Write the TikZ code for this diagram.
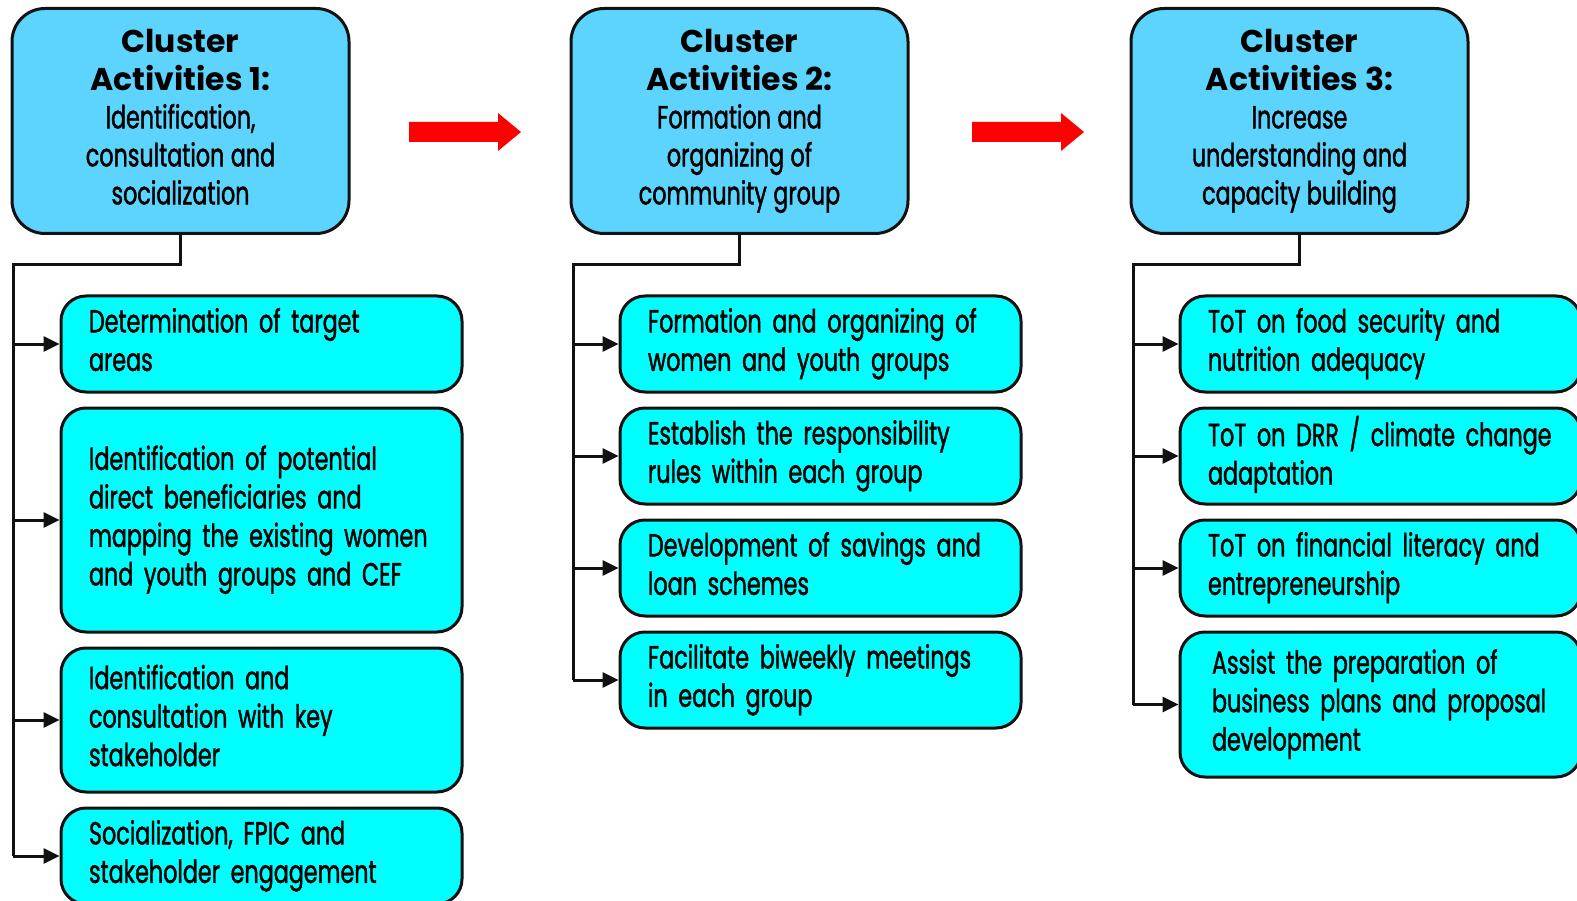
\documentclass[tikz,border=0pt]{standalone}
\usepackage{fontspec}
\setmainfont{Poppins}
\newfontfamily\bodyfont{Poppins}[FakeStretch=0.695, WordSpace=0.65, FakeBold=1.3]
\newfontfamily\headbody{Poppins}[FakeStretch=0.695, WordSpace=1.1, FakeBold=1.3]
\usetikzlibrary{arrows.meta}
\definecolor{headblue}{HTML}{5DD4FD}
\definecolor{childcyan}{HTML}{00FFFF}
\definecolor{edge}{HTML}{111111}
\definecolor{flowred}{HTML}{FF0000}
\newcommand{\hfont}{\normalfont\bfseries\fontsize{31.5}{37.5}\selectfont}
\newcommand{\tlines}[2][14pt]{\begin{tabular}{@{\hspace{#1}}l@{}}#2\end{tabular}}
\tikzset{
  headbox/.style={draw=edge, line width=3pt, fill=headblue, rounded corners=33pt,
    minimum width=337pt, minimum height=225pt, inner sep=0pt, align=center,
    font=\headbody\fontsize{32}{38}\selectfont},
  childbox/.style={draw=edge, line width=3pt, fill=childcyan, rounded corners=25pt,
    text width=373pt, inner xsep=14pt, inner ysep=0pt, align=left,
    font=\bodyfont\fontsize{32}{38.5}\selectfont},
  link/.style={line width=3pt, draw=edge, -{Triangle[length=16pt,width=15pt]}},
  stem/.style={line width=3pt, draw=edge}
}
\begin{document}
\begin{tikzpicture}[x=1pt,y=-1pt]
\useasboundingbox (0,0) rectangle (1577,901);
% header boxes
\node[headbox] (h1) at (180.5,121) {\hfont\strut Cluster\\\hfont Activities 1:\\Identification,\\consultation and\\socialization\strut};
\node[headbox] (h2) at (739.5,121) {\hfont\strut Cluster\\\hfont Activities 2:\\Formation and\\organizing of\\community group\strut};
\node[headbox] (h3) at (1299.5,121) {\hfont\strut Cluster\\\hfont Activities 3:\\Increase\\understanding and\\capacity building\strut};
% red arrows
\fill[flowred] (409,122) -- (498,122) -- (498,113) -- (521,132) -- (498,151) -- (498,142) -- (409,142) -- cycle;
\fill[flowred] (972,122) -- (1061,122) -- (1061,113) -- (1084,132) -- (1061,151) -- (1061,142) -- (972,142) -- cycle;
% column 1
\node[childbox, minimum height=96pt] (a1) at (261.5,344) {\tlines{Determination of target\\areas}};
\node[childbox, minimum height=224pt] (a2) at (261.5,520) {\tlines{Identification of potential\\direct beneficiaries and\\mapping the existing women\\and youth groups and CEF}};
\node[childbox, minimum height=144pt] (a3) at (261.5,720) {\tlines{Identification and\\consultation with key\\stakeholder}};
\node[childbox, minimum height=96pt] (a4) at (261.5,856) {\tlines{Socialization, FPIC and\\stakeholder engagement}};
% column 2
\node[childbox, minimum height=96pt] (b1) at (820.5,344) {\tlines{Formation and organizing of\\women and youth groups}};
\node[childbox, minimum height=96pt] (b2) at (820.5,456) {\tlines{Establish the responsibility\\rules within each group}};
\node[childbox, minimum height=96pt] (b3) at (820.5,568) {\tlines{Development of savings and\\loan schemes}};
\node[childbox, minimum height=96pt] (b4) at (820.5,680) {\tlines{Facilitate biweekly meetings\\in each group}};
% column 3
\node[childbox, minimum height=96pt] (c1) at (1380.5,344) {\tlines{ToT on food security and\\nutrition adequacy}};
\node[childbox, minimum height=96pt] (c2) at (1380.5,456) {\tlines{ToT on DRR / climate change\\adaptation}};
\node[childbox, minimum height=96pt] (c3) at (1380.5,568) {\tlines{ToT on financial literacy and\\entrepreneurship}};
\node[childbox, minimum height=145pt] (c4) at (1380.5,704.5) {\tlines[18pt]{Assist the preparation of\\business plans and proposal\\development}};
% trunks
\coordinate (ta) at (13,265);
\coordinate (tb) at (573,265);
\coordinate (tc) at (1133,265);
\draw[stem] (h1.south) -- (h1.south |- ta) -- (ta) -- (ta |- a4.west);
\draw[stem] (h2.south) -- (h2.south |- tb) -- (tb) -- (tb |- b4.west);
\draw[stem] (h3.south) -- (h3.south |- tc) -- (tc) -- (tc |- c4.west);
\foreach \n in {a1,a2,a3,a4} \draw[link] (ta |- \n.west) -- (\n.west);
\foreach \n in {b1,b2,b3,b4} \draw[link] (tb |- \n.west) -- (\n.west);
\foreach \n in {c1,c2,c3,c4} \draw[link] (tc |- \n.west) -- (\n.west);
\end{tikzpicture}
\end{document}
